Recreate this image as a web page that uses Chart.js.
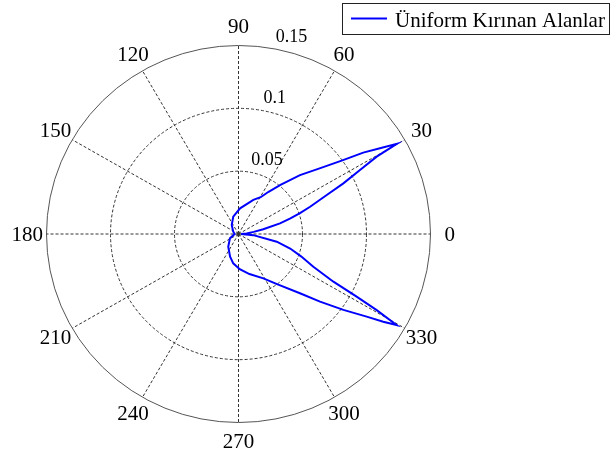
<!DOCTYPE html>
<html>
<head>
<meta charset="utf-8">
<script src="https://cdn.jsdelivr.net/npm/chart.js@4.4.1/dist/chart.umd.min.js"></script>
<style>
  html, body { margin: 0; padding: 0; background: #fff; }
  #wrap { width: 611px; height: 458px; }
</style>
</head>
<body>
<div id="wrap"><canvas id="grafica" width="611" height="458"></canvas></div>
<script>
const thetaDeg = [0, 4, 8, 11, 14.7, 17, 19, 21.2, 24.2, 26.2, 28.2, 29.7, 30.1, 31.7, 33.6, 35.9, 40.1, 44.3, 50, 55, 59.4, 66.8, 86.6, 106.5, 126.4, 156, 180, 207, 231.6, 250, 260, 272, 285, 298.8, 307, 315.5, 319.8, 323.6, 326.7, 328.3, 329.6, 330.7, 331.6, 332.9, 336, 340, 344, 348.4, 355.5, 360];
const radius = [0.002, 0.0064, 0.012, 0.0197, 0.0335, 0.042, 0.0508, 0.060, 0.0756, 0.0913, 0.1077, 0.1243, 0.143, 0.1299, 0.117, 0.0995, 0.0799, 0.0671, 0.051, 0.041, 0.034, 0.0295, 0.0205, 0.0144, 0.0089, 0.0045, 0.003, 0.0075, 0.0129, 0.0192, 0.0237, 0.028, 0.033, 0.0403, 0.05, 0.0673, 0.0834, 0.1018, 0.1198, 0.1329, 0.1432, 0.1238, 0.1049, 0.0833, 0.064, 0.052, 0.042, 0.0305, 0.0116, 0.002];
const spokeAngles = [0, 30, 60, 90, 120, 150, 180, 210, 240, 270, 300, 330];
const ringValues = [0.05, 0.1, 0.15];
const ringLabels = ['0.05', '0.1', '0.15'];
const rMax = 0.15;
const serieNombre = 'Üniform Kırınan Alanlar';

const rad = d => d * Math.PI / 180;
const puntos = thetaDeg.map((t, i) => ({ x: radius[i] * Math.cos(rad(t)), y: radius[i] * Math.sin(rad(t)) }));

const fuente = '"Liberation Serif", "Times New Roman", serif';

// rejilla polar estilo MATLAB
const rejillaPolar = {
    id: 'rejillaPolar',
    beforeDatasetsDraw(chart) {
        const { ctx, scales: { x, y } } = chart;
        const cx = x.getPixelForValue(0), cy = y.getPixelForValue(0);
        const ellipse = (r) => {
            const rx = x.getPixelForValue(r) - cx;
            const ry = cy - y.getPixelForValue(r);
            ctx.beginPath();
            ctx.ellipse(cx, cy, rx, ry, 0, 0, Math.PI * 2);
            ctx.stroke();
        };
        ctx.save();
        ctx.lineWidth = 1;
        // anillos punteados
        ctx.strokeStyle = '#333';
        ctx.setLineDash([3, 2]);
        ringValues.slice(0, -1).forEach(r => ellipse(r));
        // radios
        spokeAngles.forEach(a => {
            ctx.beginPath();
            ctx.moveTo(cx, cy);
            ctx.lineTo(x.getPixelForValue(rMax * Math.cos(rad(a))), y.getPixelForValue(rMax * Math.sin(rad(a))));
            ctx.stroke();
        });
        // circulo exterior
        ctx.setLineDash([]);
        ctx.strokeStyle = '#555';
        ellipse(rMax);
        ctx.restore();
    },
    afterDraw(chart) {
        const { ctx, scales: { x, y } } = chart;
        ctx.save();
        ctx.fillStyle = '#000';
        // etiquetas de angulo
        ctx.font = '21px ' + fuente;
        ctx.textAlign = 'center';
        ctx.textBaseline = 'middle';
        spokeAngles.forEach(a => {
            const r = rMax * 1.1;
            ctx.fillText(String(a), x.getPixelForValue(r * Math.cos(rad(a))), y.getPixelForValue(r * Math.sin(rad(a))) + 1);
        });
        // etiquetas de radio
        ctx.font = '18px ' + fuente;
        ctx.textAlign = 'left';
        ctx.textBaseline = 'bottom';
        ringValues.forEach((r, i) => {
            const rr = r + 0.0025;
            ctx.fillText(ringLabels[i], x.getPixelForValue(rr * Math.cos(rad(79))), y.getPixelForValue(rr * Math.sin(rad(79))));
        });
        // leyenda
        const ds = chart.data.datasets[0];
        ctx.fillStyle = '#fff';
        ctx.fillRect(343, 3.5, 267, 31);
        ctx.strokeStyle = '#222';
        ctx.lineWidth = 1;
        ctx.strokeRect(342.5, 3.5, 267, 31);
        ctx.strokeStyle = ds.borderColor;
        ctx.lineWidth = 2;
        ctx.beginPath();
        ctx.moveTo(351, 18.5);
        ctx.lineTo(387, 18.5);
        ctx.stroke();
        ctx.fillStyle = '#000';
        ctx.font = '21px ' + fuente;
        ctx.textBaseline = 'alphabetic';
        ctx.fillText(ds.label, 395, 27);
        ctx.restore();
    }
};

new Chart(document.getElementById('grafica'), {
    type: 'scatter',
    data: {
        datasets: [{
            label: serieNombre,
            data: puntos,
            showLine: true,
            borderColor: '#0000ff',
            borderWidth: 2,
            pointRadius: 0,
            tension: 0,
            fill: false
        }]
    },
    options: {
        responsive: false,
        animation: false,
        layout: { padding: { left: 46.5, right: 180.5, top: 45.5, bottom: 35.5 } },
        scales: {
            x: { type: 'linear', min: -rMax, max: rMax, display: false },
            y: { type: 'linear', min: -rMax, max: rMax, display: false }
        },
        plugins: {
            legend: { display: false },
            tooltip: { enabled: false }
        }
    },
    plugins: [rejillaPolar]
});
</script>
</body>
</html>
